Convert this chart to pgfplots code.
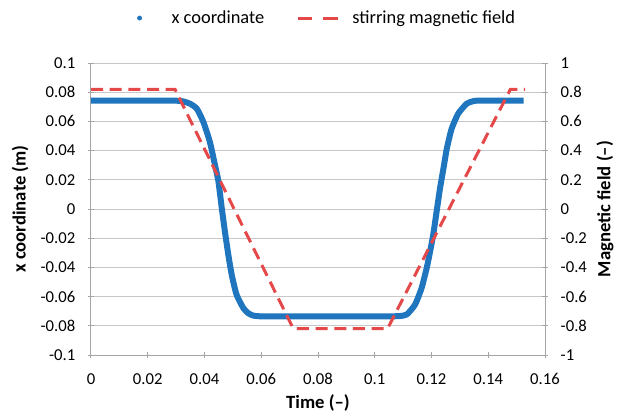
\documentclass[border=0pt]{standalone}
\usepackage{fontspec}
\setmainfont{Carlito}
\usepackage{pgfplots}
\pgfplotsset{compat=1.18}
\definecolor{bl}{RGB}{31,117,190}
\definecolor{rd}{RGB}{228,72,72}
\definecolor{gridc}{RGB}{200,200,200}
\definecolor{axc}{RGB}{165,165,165}
\pgfplotsset{
  common/.style={
    scale only axis, width=340.5pt, height=219pt,
    xmin=0, xmax=0.16,
    /pgf/number format/assume math mode=true,
    /pgf/number format/fixed, /pgf/number format/precision=2,
    tick align=center, major tick length=4.5pt,
    tick style={axc, line width=0.75pt},
    axis line style={draw=axc, line width=0.75pt},
    ticklabel style={font=\fontsize{12.5}{14}\selectfont},
  }
}
\begin{document}
\begin{tikzpicture}
\begin{axis}[common,
  ymin=-0.1, ymax=0.1,
  axis y line*=left, axis x line*=bottom,
  xtick={0,0.02,0.04,0.06,0.08,0.1,0.12,0.14,0.16},
  ytick={-0.1,-0.08,-0.06,-0.04,-0.02,0,0.02,0.04,0.06,0.08,0.1},
  ymajorgrids, major grid style={gridc, line width=0.75pt},
  xticklabel shift=8pt, yticklabel shift=6pt,
  every axis y label/.style={at={(axis description cs:-0.156,0.5)}, anchor=center, rotate=90, font=\bfseries\fontsize{14}{16}\selectfont},
  every axis x label/.style={at={(axis description cs:0.5,-0.164)}, anchor=center, font=\bfseries\fontsize{14}{16}\selectfont},
  ylabel={x coordinate (m)}, xlabel={Time (–)},
  legend style={at={(axis description cs:0.50,1.154)}, anchor=center, draw=none, fill=none,
    legend columns=2, font=\fontsize{13.8}{16}\selectfont,
    /tikz/every even column/.append style={column sep=22pt}},
]
\addlegendimage{legend image code/.code={\path[draw=none,fill=none] (0pt,0pt) -- (38pt,0pt); \fill[bl] (16pt,0pt) circle (1.6pt);}}
\addlegendentry{x coordinate}
\addlegendimage{legend image code/.code={\path[draw=none,fill=none] (0pt,0pt) -- (39pt,0pt); \draw[rd, line width=2.25pt, dash pattern=on 11pt off 8pt] (0pt,0pt) -- (30pt,0pt);}}
\addlegendentry{stirring magnetic field}
\addplot[bl, line width=4.5pt, line join=round, smooth, tension=0.35, forget plot] coordinates {
(0,0.0743) (0.01,0.0743) (0.02,0.0743) (0.027,0.0743) (0.030,0.0742) (0.0325,0.0737) (0.035,0.0720) (0.0373,0.0687)
(0.0396,0.0596) (0.0419,0.0459) (0.0437,0.0300) (0.0449,0.0190) (0.0461,0.0004)
(0.0472,-0.0155) (0.0484,-0.0314) (0.0496,-0.0451) (0.0513,-0.0587) (0.0537,-0.0679)
(0.0555,-0.0715) (0.0572,-0.0730) (0.0596,-0.0735) (0.064,-0.0735) (0.075,-0.0735) (0.09,-0.0735)
(0.1,-0.0735) (0.106,-0.0735) (0.1089,-0.0733) (0.1113,-0.0722)
(0.1142,-0.0655) (0.1165,-0.0542) (0.1183,-0.0405) (0.1195,-0.0291) (0.1206,-0.0177)
(0.1218,-0.0018) (0.1230,0.0141) (0.1242,0.0277) (0.1254,0.0414) (0.1271,0.0550)
(0.1294,0.0653) (0.1324,0.0721) (0.1350,0.0740) (0.1375,0.0743) (0.140,0.0743) (0.146,0.0743) (0.1525,0.0743)
};
\end{axis}
\begin{axis}[common,
  ymin=-1, ymax=1,
  axis y line*=right, axis x line=none,
  ytick={-1,-0.8,-0.6,-0.4,-0.2,0,0.2,0.4,0.6,0.8,1},
  yticklabel shift=6pt,
  every axis y label/.style={at={(axis description cs:1.132,0.5)}, anchor=center, rotate=90, font=\bfseries\fontsize{14}{16}\selectfont},
  ylabel={Magnetic field (–)},
]
\addplot[rd, line width=2.25pt, dash pattern=on 9pt off 5pt] coordinates {
(0,0.82) (0.0296,0.82) (0.0713,-0.82) (0.1045,-0.82) (0.1478,0.82) (0.153,0.82)
};
\end{axis}
\pgfresetboundingbox
\useasboundingbox (-68.25pt,-45pt) rectangle (396.75pt,266.25pt);
\end{tikzpicture}
\end{document}
